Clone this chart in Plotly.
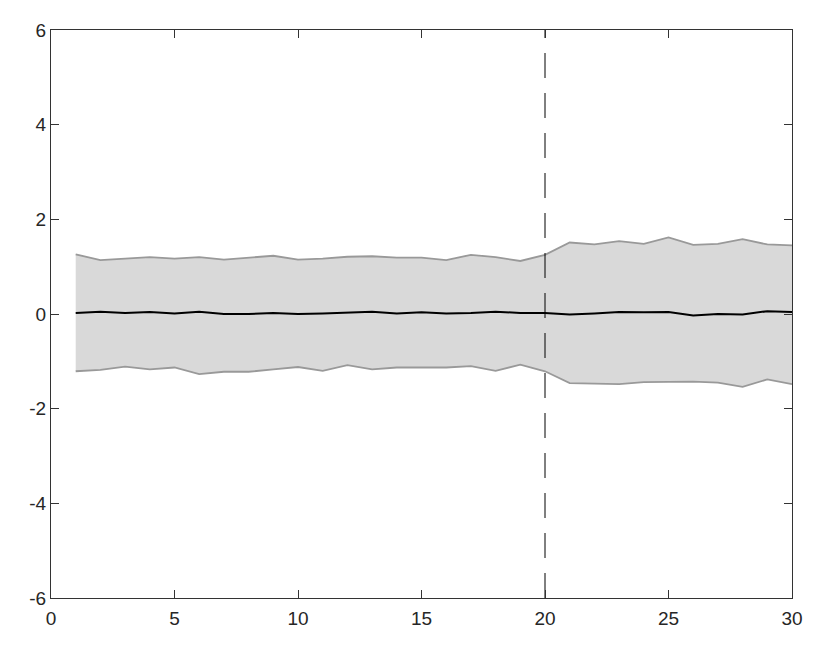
import plotly.graph_objects as go

x = list(range(1, 31))
upper = [1.26, 1.14, 1.17, 1.20, 1.17, 1.20, 1.15, 1.19, 1.23, 1.15,
         1.17, 1.21, 1.22, 1.19, 1.19, 1.14, 1.25, 1.20, 1.12, 1.25,
         1.51, 1.47, 1.54, 1.48, 1.62, 1.46, 1.48, 1.58, 1.47, 1.45]
mean = [0.02, 0.05, 0.02, 0.04, 0.01, 0.05, 0.00, 0.00, 0.02, 0.00,
        0.01, 0.035, 0.05, 0.01, 0.035, 0.01, 0.02, 0.05, 0.02, 0.02,
        -0.01, 0.01, 0.04, 0.035, 0.04, -0.03, 0.00, -0.01, 0.06, 0.04]
lower = [-1.21, -1.18, -1.11, -1.17, -1.13, -1.27, -1.22, -1.22, -1.17, -1.12,
         -1.20, -1.08, -1.17, -1.13, -1.13, -1.13, -1.10, -1.20, -1.07, -1.21,
         -1.46, -1.47, -1.48, -1.44, -1.43, -1.43, -1.45, -1.54, -1.38, -1.48]
vline_x = 20
x_ticks = [0, 5, 10, 15, 20, 25, 30]
x_tick_labels = ["0", "5", "10", "15", "20", "25", "30"]
y_ticks = [-6, -4, -2, 0, 2, 4, 6]
y_tick_labels = ["-6", "-4", "-2", "0", "2", "4", "6"]

fig = go.Figure()
fig.add_trace(go.Scatter(x=x, y=upper, mode="lines",
                         line=dict(color="#999999", width=1.8), showlegend=False))
fig.add_trace(go.Scatter(x=x, y=lower, mode="lines", fill="tonexty",
                         fillcolor="#d9d9d9",
                         line=dict(color="#999999", width=1.8), showlegend=False))
fig.add_trace(go.Scatter(x=x, y=mean, mode="lines",
                         line=dict(color="black", width=2), showlegend=False))
fig.add_trace(go.Scatter(x=[vline_x, vline_x], y=[-6, 6], mode="lines",
                         line=dict(color="black", width=1, dash="25px,15px"),
                         showlegend=False))

axis_common = dict(showgrid=False, zeroline=False, showline=True,
                   linecolor="#333333", linewidth=1, mirror="ticks",
                   ticks="inside", ticklen=8, tickcolor="#333333",
                   tickfont=dict(family="Liberation Sans Narrow, Liberation Sans, Arial, sans-serif",
                                 size=19, color="#262626"))
fig.update_xaxes(range=[0, 30], tickvals=x_ticks, ticktext=x_tick_labels,
                 ticklabelstandoff=3, **axis_common)
fig.update_yaxes(range=[-6, 6], tickvals=y_ticks, ticktext=y_tick_labels, **axis_common)
# page body has an 8px margin, so the figure is sized/offset to compensate
fig.update_layout(width=822, height=640, plot_bgcolor="white",
                  paper_bgcolor="white",
                  margin=dict(l=43, r=38, t=18, b=50))
fig.write_html("out.html")
